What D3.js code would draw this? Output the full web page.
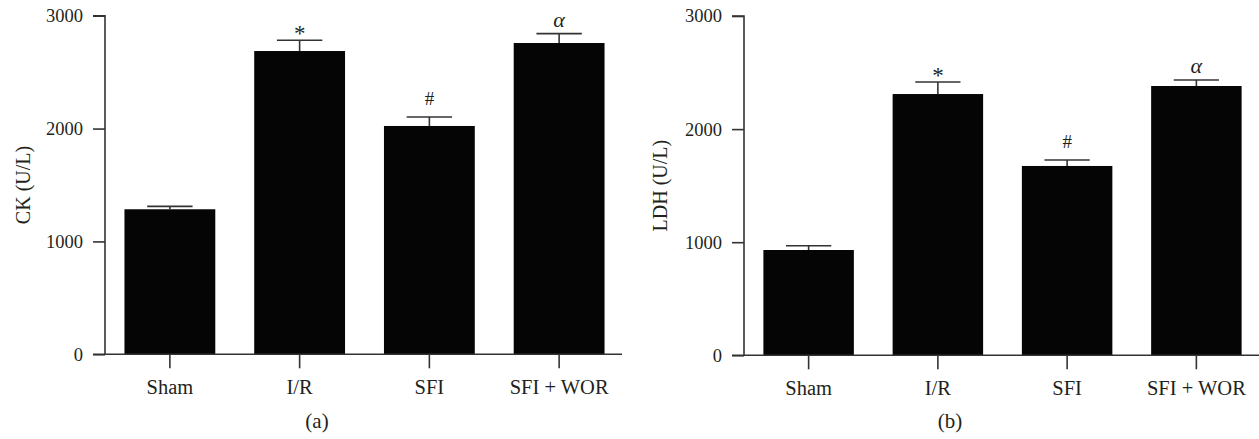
<!DOCTYPE html>
<html>
<head>
<meta charset="utf-8">
<script src="https://cdn.jsdelivr.net/npm/d3@7"></script>
<style>
  body { margin: 0; background: #fff; }
  text { font-family: "Liberation Serif", "DejaVu Serif", serif; fill: #231f20; }
</style>
</head>
<body>
<div id="chart"></div>
<script>
//////////////////////////// data /////////////////////////////////////////

const groups = ["Sham", "I/R", "SFI", "SFI + WOR"];
const marks = ["", "*", "#", "α"];

// panel (a) CK
const ckMean = [1285, 2687, 2023, 2758];
const ckErr = [26, 95, 80, 83];

// panel (b) LDH
const ldhMean = [931, 2310, 1674, 2381];
const ldhErr = [38, 106, 53, 53];

const yTicks = [0, 1000, 2000, 3000];

//////////////////////////// set up svg //////////////////////////////////

const width = 1259;
const height = 439;

const svg = d3
  .select("#chart")
  .append("svg")
  .attr("width", width)
  .attr("height", height);

const axisColor = "#333";

// one panel per measurement
const panels = [
  { label: "CK (U/L)", tag: "(a)", mean: ckMean, err: ckErr,
    x0: 105, x1: 624, lineEnd: 622, yTop: 15.7, yBot: 354.3, titleX: 23, tagX: 317 },
  { label: "LDH (U/L)", tag: "(b)", mean: ldhMean, err: ldhErr,
    x0: 744, x1: 1261, lineEnd: 1259, yTop: 16, yBot: 355.3, titleX: 660, tagX: 950 }
];

// nudges for the significance glyphs (baseline offset above the cap)
const markStyle = {
  "*": { size: "23px", dy: -1, italic: false },
  "#": { size: "19px", dy: 12, italic: false },
  "α": { size: "22px", dy: 7, italic: true }
};

panels.forEach((p) => {
  const data = groups.map((g, i) => ({ group: g, mean: p.mean[i], err: p.err[i], mark: marks[i] }));

  const x = d3.scaleBand().domain(groups).range([p.x0, p.x1]).paddingInner(0.3).paddingOuter(0.15);
  const y = d3.scaleLinear().domain([0, 3000]).range([p.yBot, p.yTop]);

  const g = svg.append("g");

  // bars
  g.selectAll(".bar")
    .data(data)
    .enter()
    .append("rect")
    .attr("class", "bar")
    .attr("x", (d) => x(d.group))
    .attr("width", x.bandwidth())
    .attr("y", (d) => y(d.mean))
    .attr("height", (d) => y(0) - y(d.mean))
    .attr("fill", "#050505");

  // error bars (upper only)
  const eb = g.selectAll(".err").data(data).enter().append("g").attr("class", "err");
  eb.append("line")
    .attr("x1", (d) => x(d.group) + x.bandwidth() / 2)
    .attr("x2", (d) => x(d.group) + x.bandwidth() / 2)
    .attr("y1", (d) => y(d.mean))
    .attr("y2", (d) => y(d.mean + d.err))
    .attr("stroke", axisColor)
    .attr("stroke-width", 1.6);
  eb.append("line")
    .attr("x1", (d) => x(d.group) + x.bandwidth() / 4)
    .attr("x2", (d) => x(d.group) + (x.bandwidth() * 3) / 4)
    .attr("y1", (d) => y(d.mean + d.err))
    .attr("y2", (d) => y(d.mean + d.err))
    .attr("stroke", axisColor)
    .attr("stroke-width", 1.6);

  // significance marks
  g.selectAll(".mark")
    .data(data.filter((d) => d.mark))
    .enter()
    .append("text")
    .attr("class", "mark")
    .attr("x", (d) => x(d.group) + x.bandwidth() / 2)
    .attr("y", (d) => y(d.mean + d.err) - markStyle[d.mark].dy)
    .attr("text-anchor", "middle")
    .style("font-size", (d) => markStyle[d.mark].size)
    .style("font-style", (d) => (markStyle[d.mark].italic ? "italic" : "normal"))
    .text((d) => d.mark);

  //////////////////////////// axes /////////////////////////////////////

  const yAxis = d3.axisLeft(y).tickValues(yTicks).tickSize(12).tickPadding(10).tickFormat(d3.format("d"));
  const ya = g.append("g").attr("transform", "translate(" + p.x0 + ",0)").call(yAxis);
  ya.select(".domain").attr("d", "M0," + y(0) + "V" + y(3000) + "H-12");
  ya.selectAll("path, line").attr("stroke", axisColor).attr("stroke-width", 1.6);
  ya.selectAll("text").style("font-size", "18.5px").attr("fill", "#231f20");

  const xAxis = d3.axisBottom(x).tickSize(14).tickPadding(11);
  const xa = g.append("g").attr("transform", "translate(0," + y(0) + ")").call(xAxis);
  xa.select(".domain").attr("d", "M" + (p.x0 - 12) + ",0H" + p.lineEnd);
  xa.selectAll("path, line").attr("stroke", axisColor).attr("stroke-width", 1.6);
  xa.selectAll("text").style("font-size", "20.5px").attr("fill", "#231f20");

  // y label
  g.append("text")
    .attr("transform", "translate(" + p.titleX + "," + (p.yTop + p.yBot) / 2 + ") rotate(-90)")
    .attr("text-anchor", "middle")
    .attr("dy", "0.35em")
    .style("font-size", "20px")
    .text(p.label);

  // panel tag
  g.append("text")
    .attr("x", p.tagX)
    .attr("y", 428)
    .attr("text-anchor", "middle")
    .style("font-size", "21px")
    .text(p.tag);
});
</script>
</body>
</html>
